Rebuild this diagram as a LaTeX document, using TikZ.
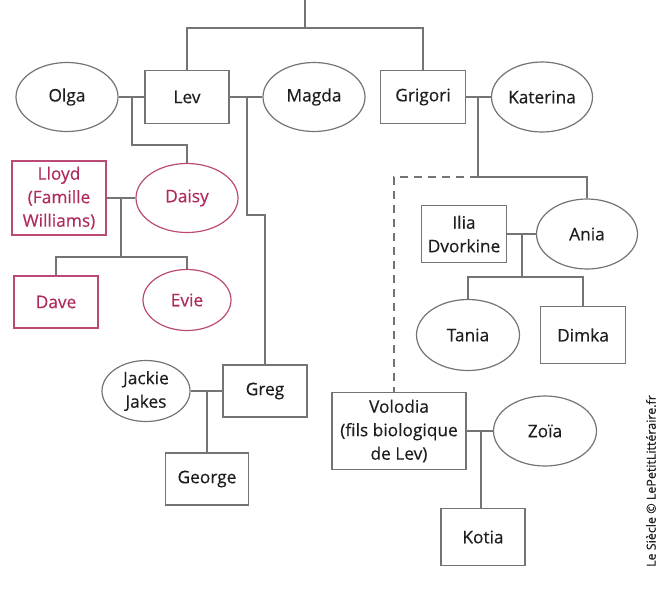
\documentclass[tikz,border=0pt]{standalone}
\usepackage{fontspec}
\setmainfont{Open Sans}
\newfontfamily\medfont{Open Sans}[FakeBold=0.35]
\usetikzlibrary{shapes.geometric}
\definecolor{lin}{HTML}{747474}
\definecolor{txt}{HTML}{1E1E1E}
\definecolor{pnk}{HTML}{B02A5E}
\tikzset{
  person/.style={draw=lin, line width=1.2pt, text=txt, inner sep=0pt, align=center,
    font=\medfont\fontsize{17.3}{23.5}\selectfont},
  man/.style={person, rectangle},
  woman/.style={person, ellipse},
  pinkp/.style={draw=pnk!85, text=pnk},
  link/.style={draw=lin, line width=1.2pt},
}
\begin{document}
\begin{tikzpicture}[x=1pt,y=-1pt]
\useasboundingbox (0,0) rectangle (668,600);
\fill[white] (0,0) rectangle (668,600);

% generation 1
\node[woman, minimum width=102pt, minimum height=69pt] (olga) at (67,97) {Olga};
\node[man, minimum width=84pt, minimum height=53pt] (lev) at (187,97) {Lev};
\node[woman, minimum width=102pt, minimum height=69pt] (magda) at (314,97) {Magda};
\node[man, minimum width=85pt, minimum height=53pt] (grigori) at (423,97) {Grigori};
\node[woman, minimum width=101pt, minimum height=70pt] (katerina) at (542,97) {Katerina};

% Daisy family
\node[woman, pinkp, minimum width=102pt, minimum height=69pt] (daisy) at (187,198) {Daisy};
\node[man, pinkp, minimum width=94pt, minimum height=74pt] (lloyd) at (59,198) {Lloyd\\(Famille\\Williams)};
\node[man, pinkp, minimum width=84pt, minimum height=52pt] (dave) at (56,302) {Dave};
\node[woman, pinkp, minimum width=88pt, minimum height=61pt] (evie) at (187,300) {Evie};

% Ania family
\node[man, minimum width=85pt, minimum height=57pt] (ilia) at (464,234) {Ilia\\Dvorkine};
\node[woman, minimum width=101pt, minimum height=70pt] (ania) at (587,234) {Ania};
\node[woman, minimum width=103pt, minimum height=71pt] (tania) at (468,335) {Tania};
\node[man, minimum width=85pt, minimum height=57pt] (dimka) at (583,335) {Dimka};

% Greg family
\node[man, minimum width=84pt, minimum height=52pt] (greg) at (265,391) {Greg};
\node[woman, minimum width=88pt, minimum height=61pt] (jackie) at (146,391) {Jackie\\Jakes};
\node[man, minimum width=83pt, minimum height=52pt] (george) at (207,479) {George};

% Volodia family
\node[man, minimum width=134pt, minimum height=77pt] (volodia) at (399,431) {Volodia\\(fils biologique\\de Lev)};
\node[woman, minimum width=103pt, minimum height=70pt] (zoia) at (545,431) {Zoïa};
\node[man, minimum width=84pt, minimum height=57pt] (kotia) at (483,537) {Kotia};

% watermark
\node[rotate=90, text=txt, font=\medfont\fontsize{12.5}{14}\selectfont] (wm) at (651,481) {Le Siècle © LePetitLittéraire.fr};

% connectors
\coordinate (top) at (305,0);
\coordinate (topj) at (305,28);
\draw[link] (top) -- (topj);
\draw[link] (lev.north) -- (lev.north |- topj) -| (grigori.north);

\coordinate (j1) at (132,97);
\draw[link] (olga.east) -- (lev.west);
\draw[link] (j1) -- ++(0,48) -| (daisy.north);

\coordinate (j2) at (247,97);
\draw[link] (lev.east) -- (magda.west);
\draw[link] (j2) -- ++(0,118) -| (greg.north);

\coordinate (j3) at (478,97);
\coordinate (k3) at (478,177);
\draw[link] (grigori.east) -- (katerina.west);
\draw[link] (j3) -- (k3) -| (ania.north);
\draw[link, dashed, dash pattern=on 8pt off 6pt] (k3) -| ([xshift=-5pt]volodia.north);

\coordinate (j4) at (121,198);
\coordinate (k4) at (121,257);
\draw[link] (lloyd.east) -- (daisy.west);
\draw[link] (j4) -- (k4);
\draw[link] (dave.north) |- (k4) -| (evie.north);

\coordinate (j5) at (522,234);
\coordinate (k5) at (522,277);
\draw[link] (ilia.east) -- (ania.west);
\draw[link] (j5) -- (k5);
\draw[link] (tania.north) |- (k5) -| (dimka.north);

\coordinate (j6) at (207,391);
\draw[link] (jackie.east) -- (greg.west);
\draw[link] (j6) -- (george.north);

\coordinate (j7) at (481,431);
\draw[link] (volodia.east) -- (zoia.west);
\draw[link] (j7) -- (j7 |- kotia.north);
\end{tikzpicture}
\end{document}
